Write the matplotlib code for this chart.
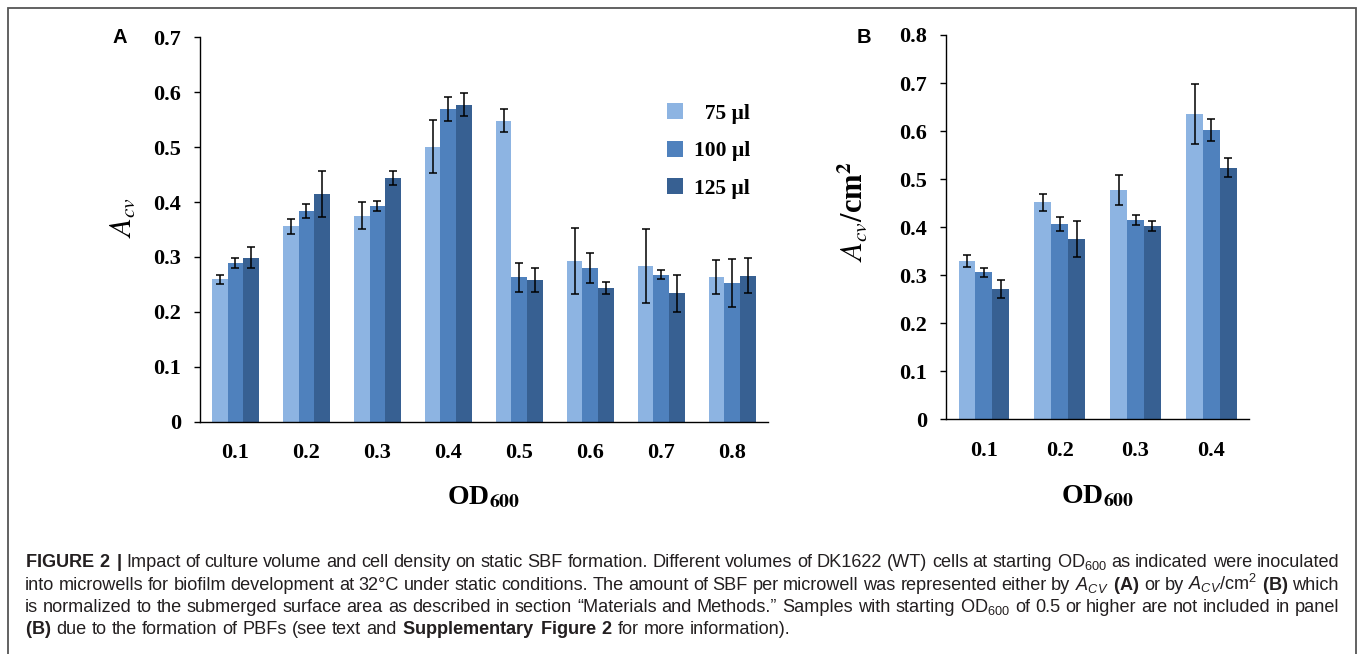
import matplotlib
matplotlib.use('Agg')
import matplotlib.pyplot as plt
from matplotlib.patches import Rectangle, Patch
from matplotlib.font_manager import FontProperties
import numpy as np

# ---------------- data ----------------
od_a = ['0.1', '0.2', '0.3', '0.4', '0.5', '0.6', '0.7', '0.8']
acv_75 = [0.259, 0.356, 0.375, 0.501, 0.548, 0.293, 0.283, 0.263]
acv_75_err = [0.009, 0.014, 0.025, 0.049, 0.021, 0.060, 0.067, 0.031]
acv_100 = [0.289, 0.384, 0.392, 0.569, 0.263, 0.280, 0.268, 0.252]
acv_100_err = [0.009, 0.013, 0.009, 0.022, 0.026, 0.027, 0.009, 0.044]
acv_125 = [0.299, 0.414, 0.444, 0.577, 0.258, 0.243, 0.234, 0.266]
acv_125_err = [0.020, 0.042, 0.013, 0.021, 0.022, 0.011, 0.034, 0.032]

od_b = ['0.1', '0.2', '0.3', '0.4']
acvcm_75 = [0.330, 0.452, 0.477, 0.636]
acvcm_75_err = [0.012, 0.018, 0.031, 0.062]
acvcm_100 = [0.306, 0.407, 0.415, 0.603]
acvcm_100_err = [0.009, 0.014, 0.010, 0.023]
acvcm_125 = [0.271, 0.375, 0.402, 0.524]
acvcm_125_err = [0.018, 0.038, 0.010, 0.019]

series_labels = ['  75 µl', '100 µl', '125 µl']
yticks_a = [0, 0.1, 0.2, 0.3, 0.4, 0.5, 0.6, 0.7]
yticklabels_a = ['0', '0.1', '0.2', '0.3', '0.4', '0.5', '0.6', '0.7']
yticks_b = [0, 0.1, 0.2, 0.3, 0.4, 0.5, 0.6, 0.7, 0.8]
yticklabels_b = ['0', '0.1', '0.2', '0.3', '0.4', '0.5', '0.6', '0.7', '0.8']

caption_lines = [
    [r'$\mathbf{FIGURE}$', r'$\mathbf{2}$', r'$\mathbf{|}$', 'Impact', 'of', 'culture', 'volume', 'and', 'cell',
     'density', 'on', 'static', 'SBF', 'formation.', 'Different', 'volumes', 'of', 'DK1622', '(WT)', 'cells',
     'at', 'starting', r'OD$_{600}$', 'as', 'indicated', 'were', 'inoculated'],
    ['into', 'microwells', 'for', 'biofilm', 'development', 'at', '32°C', 'under', 'static', 'conditions.',
     'The', 'amount', 'of', 'SBF', 'per', 'microwell', 'was', 'represented', 'either', 'by',
     r'$\mathit{A}_{\mathit{CV}}$', r'$\mathbf{(A)}$', 'or', 'by', r'$\mathit{A}_{\mathit{CV}}$/cm$^{2}$',
     r'$\mathbf{(B)}$', 'which'],
    ['is', 'normalized', 'to', 'the', 'submerged', 'surface', 'area', 'as', 'described', 'in', 'section',
     '“Materials', 'and', 'Methods.”', 'Samples', 'with', 'starting', r'OD$_{600}$', 'of', '0.5', 'or',
     'higher', 'are', 'not', 'included', 'in', 'panel'],
    [r'$\mathbf{(B)}$', 'due', 'to', 'the', 'formation', 'of', 'PBFs', '(see', 'text', 'and',
     r'$\mathbf{Supplementary}$', r'$\mathbf{Figure}$', r'$\mathbf{2}$', 'for', 'more', 'information).'],
]

colors = ['#8DB4E2', '#4F81BD', '#376092']

# ---------------- style ----------------
plt.rcParams['mathtext.fontset'] = 'custom'
plt.rcParams['mathtext.rm'] = 'Liberation Sans'
plt.rcParams['mathtext.it'] = 'Liberation Sans:italic'
plt.rcParams['mathtext.bf'] = 'Liberation Sans:bold'

W, H = 1357, 654
fig = plt.figure(figsize=(W / 100, H / 100), dpi=100)

serif_tick = dict(family='Liberation Serif', weight='bold', size=16)


def px_axes(x0, y0, x1, y1):
    return fig.add_axes([x0 / W, 1 - y1 / H, (x1 - x0) / W, (y1 - y0) / H])


def draw_bars(ax, cats, vals, errs, width):
    x = np.arange(len(cats))
    offs = [-width, 0, width]
    for v, e, c, o in zip(vals, errs, colors, offs):
        ax.bar(x + o, v, width=width, color=c, edgecolor='none', zorder=2)
        ax.errorbar(x + o, v, yerr=e, fmt='none', ecolor='black', elinewidth=1.1,
                    capsize=3.2, capthick=1.1, zorder=3)
    ax.set_xticks(x)
    ax.set_xticklabels(cats, fontdict=serif_tick)
    ax.set_xlim(-0.5, len(cats) - 0.5)
    for s in ['top', 'right']:
        ax.spines[s].set_visible(False)
    for s in ['left', 'bottom']:
        ax.spines[s].set_linewidth(1.0)
    ax.tick_params(axis='x', length=0, pad=15.5)
    ax.tick_params(axis='y', length=4.3, width=1.0, pad=9.5, direction='out')


# ---------------- panel A ----------------
axA = px_axes(200, 37.3, 767.7, 421.7)
draw_bars(axA, od_a, [acv_75, acv_100, acv_125], [acv_75_err, acv_100_err, acv_125_err], 0.222)
axA.set_ylim(0, 0.7)
axA.set_yticks(yticks_a)
axA.set_yticklabels(yticklabels_a, fontdict=serif_tick)
axA.set_ylabel(r'$A_{cv}$', fontsize=22, math_fontfamily='stix')
axA.yaxis.set_label_coords(-0.111, 0.53)
axA.set_xlabel(r'OD$_{\mathbf{600}}$', family='Liberation Serif', weight='bold', fontsize=20,
               math_fontfamily='stix')
axA.xaxis.set_label_coords(0.5, -0.163)

leg = axA.legend([Patch(facecolor=c, edgecolor='none') for c in colors], series_labels,
                 loc='upper left', bbox_to_anchor=(666.7 / W, 1 - 103.5 / H),
                 bbox_transform=fig.transFigure, frameon=False, borderpad=0, borderaxespad=0,
                 handlelength=0.75, handleheight=0.75, handletextpad=0.5, labelspacing=0.79,
                 prop=FontProperties(family='Liberation Serif', weight='bold', size=15.5))

# ---------------- panel B ----------------
axB = px_axes(946, 35, 1249.3, 419.3)
draw_bars(axB, od_b, [acvcm_75, acvcm_100, acvcm_125], [acvcm_75_err, acvcm_100_err, acvcm_125_err], 0.222)
axB.set_ylim(0, 0.8)
axB.set_yticks(yticks_b)
axB.set_yticklabels(yticklabels_b, fontdict=serif_tick)
axB.set_ylabel(r'$A_{cv}$/cm$^{\mathbf{2}}$', family='Liberation Serif', weight='bold', fontsize=22,
               math_fontfamily='stix')
axB.yaxis.set_label_coords(-0.251, 0.54)
axB.set_xlabel(r'OD$_{\mathbf{600}}$', family='Liberation Serif', weight='bold', fontsize=20,
               math_fontfamily='stix')
axB.xaxis.set_label_coords(0.5, -0.168)

# panel letters
fig.text(119.5 / W, 1 - 37.5 / H, 'A', family='Liberation Sans', weight='bold', fontsize=14.5,
         ha='center', va='center')
fig.text(863.5 / W, 1 - 37.5 / H, 'B', family='Liberation Sans', weight='bold', fontsize=14.5,
         ha='center', va='center')

# outer frame
fig.patches.append(Rectangle((8 / W, -0.05), (1355.5 - 8) / W, 1.05 - 8 / H, transform=fig.transFigure,
                             fill=False, edgecolor='#555555', linewidth=1.3))

# ---------------- caption ----------------
renderer = fig.canvas.get_renderer()
cap_size = 13.1
cap_color = '#231F20'
baselines = [567, 590, 612, 634]
x_left, x_right = 25, 1339
space_px = 0.278 * cap_size * 100 / 72
for i, (words, yb) in enumerate(zip(caption_lines, baselines)):
    texts = [fig.text(0, 1 - yb / H, w, family='Liberation Sans', fontsize=cap_size, color=cap_color,
                      ha='left', va='baseline') for w in words]
    widths = [t.get_window_extent(renderer).width for t in texts]
    if i < len(caption_lines) - 1:
        gap = (x_right - x_left - sum(widths)) / (len(words) - 1)
    else:
        gap = space_px
    x = x_left
    for t, wd in zip(texts, widths):
        t.set_x(x / W)
        x += wd + gap

fig.savefig('out.png', dpi=100)
